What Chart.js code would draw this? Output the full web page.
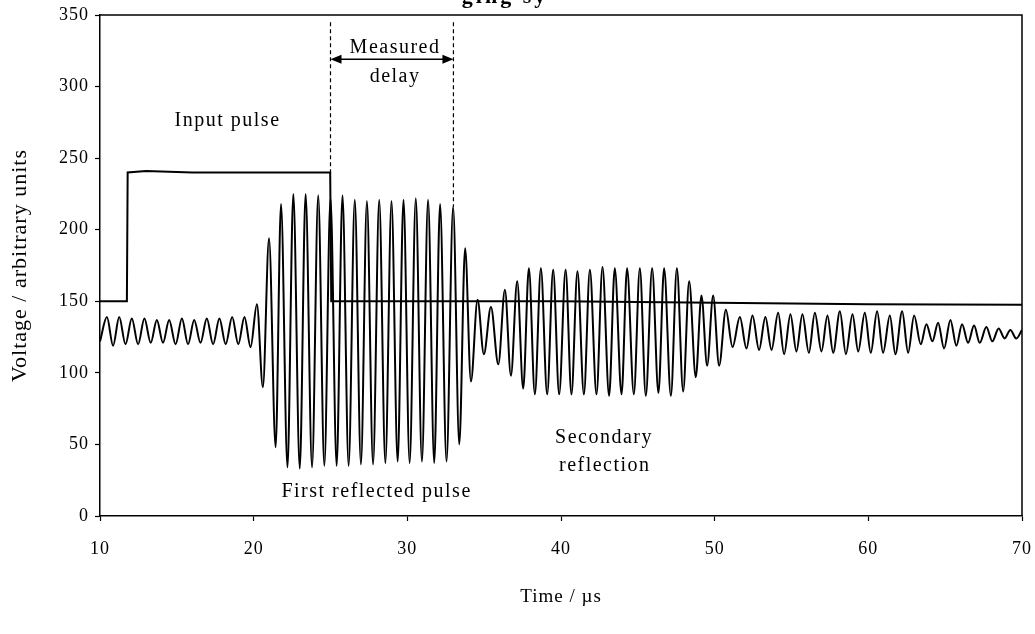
<!DOCTYPE html>
<html>
<head>
<meta charset="utf-8">
<script src="https://cdn.jsdelivr.net/npm/chart.js@4.4.1/dist/chart.umd.min.js"></script>
<style>
  html, body { margin: 0; padding: 0; background: #fff; }
  #chart { display: block; }
</style>
</head>
<body>
<canvas id="chart" width="1035" height="634"></canvas>
<script>
// Input pulse (square step)
const pulseTimes  = [10, 11.75, 11.8, 13, 16, 20, 24.98, 25.05, 30, 40, 50, 60, 70];
const pulseValues = [150, 150, 240, 241, 240, 240, 240, 150, 150, 150, 149, 148, 147.5];

// Received signal: peaks and troughs
const waveTimes = [
  10.0, 10.45, 10.85, 11.25, 11.66, 12.07, 12.48, 12.89, 13.3, 13.7,
  14.1, 14.5, 14.92, 15.33, 15.73, 16.13, 16.54, 16.95, 17.36, 17.77,
  18.18, 18.6, 19.0, 19.4, 19.8, 20.21, 20.6, 21.0, 21.43, 21.78,
  22.2, 22.58, 23.0, 23.38, 23.8, 24.2, 24.6, 25.0, 25.4, 25.78,
  26.18, 26.58, 26.98, 27.37, 27.77, 28.17, 28.57, 28.97, 29.37, 29.75,
  30.15, 30.55, 30.95, 31.35, 31.75, 32.13, 32.55, 32.98, 33.38, 33.76,
  34.14, 34.57, 34.98, 35.44, 35.92, 36.35, 36.74, 37.15, 37.54, 37.91,
  38.3, 38.69, 39.1, 39.49, 39.88, 40.3, 40.68, 41.07, 41.49, 41.88,
  42.31, 42.7, 43.13, 43.5, 43.94, 44.3, 44.74, 45.13, 45.52, 45.93,
  46.34, 46.71, 47.15, 47.54, 47.95, 48.34, 48.77, 49.14, 49.51, 49.9,
  50.29, 50.73, 51.16, 51.64, 52.07, 52.46, 52.89, 53.3, 53.7, 54.13,
  54.52, 54.93, 55.32, 55.71, 56.13, 56.52, 56.95, 57.34, 57.71, 58.15,
  58.54, 58.97, 59.34, 59.77, 60.16, 60.57, 60.96, 61.4, 61.76, 62.2,
  62.59, 62.98, 63.41, 63.78, 64.17, 64.54, 64.93, 65.34, 65.73, 66.1,
  66.49, 66.88, 67.25, 67.68, 68.07, 68.48, 68.87, 69.24, 69.63, 70.0
];
const waveValues = [
  122, 139, 119, 139, 120, 138, 120, 138, 121, 137,
  121, 137, 120, 138, 120, 137, 121, 138, 120, 138,
  120, 139, 120, 139, 118, 148, 90, 194, 48, 218,
  34, 225, 33, 225, 34, 224, 35, 222, 35, 224,
  35, 221, 36, 220, 36, 221, 37, 220, 38, 221,
  37, 222, 38, 221, 37, 218, 38, 216, 50, 187,
  94, 151, 113, 146, 106, 158, 98, 164, 89, 173,
  85, 173, 85, 172, 85, 172, 85, 171, 85, 172,
  85, 174, 84, 173, 85, 173, 85, 173, 84, 173,
  86, 173, 84, 173, 87, 164, 97, 154, 105, 154,
  105, 144, 118, 139, 117, 140, 116, 139, 116, 142,
  113, 141, 115, 141, 114, 142, 115, 140, 114, 143,
  113, 141, 115, 142, 114, 143, 114, 140, 113, 143,
  114, 140, 120, 134, 122, 135, 117, 137, 119, 134,
  121, 133, 121, 132, 122, 131, 124, 130, 124, 130
];

// Axis ticks
const xTicks = [10, 20, 30, 40, 50, 60, 70];
const yTicks = [0, 50, 100, 150, 200, 250, 300, 350];

const FONT = '"Liberation Serif", "Times New Roman", serif';

// Text notes placed in data coordinates
const notes = [
  { text: 'Input pulse', x: 18.3, y: 276 },
  { text: 'Measured', x: 29.2, y: 327 },
  { text: 'delay', x: 29.2, y: 307 },
  { text: 'Secondary', x: 42.8, y: 55 },
  { text: 'reflection', x: 42.85, y: 35 },
  { text: 'First reflected pulse', x: 28.0, y: 17 }
];

function toPoints(xs, ys) {
  return xs.map((x, i) => ({ x, y: ys[i] }));
}

// Frame, delay markers, arrow and labels
const overlayPlugin = {
  id: 'overlay',
  beforeDraw(chart) {
    chart.ctx.letterSpacing = '1px';
  },
  afterDraw(chart) {
    const { ctx, chartArea: area, scales: { x, y } } = chart;
    ctx.save();

    // top and right edges of the plot box
    ctx.strokeStyle = '#000';
    ctx.lineWidth = 1.5;
    ctx.beginPath();
    ctx.moveTo(area.left, area.top);
    ctx.lineTo(area.right, area.top);
    ctx.lineTo(area.right, area.bottom);
    ctx.stroke();

    // dashed delay markers
    ctx.setLineDash([4, 3]);
    ctx.lineWidth = 1.2;
    [[25, 240], [33, 216]].forEach(([t, v]) => {
      ctx.beginPath();
      ctx.moveTo(x.getPixelForValue(t), y.getPixelForValue(345));
      ctx.lineTo(x.getPixelForValue(t), y.getPixelForValue(v));
      ctx.stroke();
    });
    ctx.setLineDash([]);

    // double headed arrow
    const ay = y.getPixelForValue(319);
    const ax1 = x.getPixelForValue(25);
    const ax2 = x.getPixelForValue(33);
    ctx.lineWidth = 1.5;
    ctx.beginPath();
    ctx.moveTo(ax1 + 8, ay);
    ctx.lineTo(ax2 - 8, ay);
    ctx.stroke();
    ctx.fillStyle = '#000';
    ctx.beginPath();
    ctx.moveTo(ax1, ay); ctx.lineTo(ax1 + 11, ay - 4.5); ctx.lineTo(ax1 + 11, ay + 4.5);
    ctx.closePath(); ctx.fill();
    ctx.beginPath();
    ctx.moveTo(ax2, ay); ctx.lineTo(ax2 - 11, ay - 4.5); ctx.lineTo(ax2 - 11, ay + 4.5);
    ctx.closePath(); ctx.fill();

    // text notes
    ctx.font = '20px ' + FONT;
    ctx.letterSpacing = '1.5px';
    ctx.textAlign = 'center';
    ctx.textBaseline = 'middle';
    notes.forEach(n => {
      ctx.fillText(n.text, x.getPixelForValue(n.x), y.getPixelForValue(n.y));
    });

    // chart title, cut off by the top edge of the picture
    ctx.font = 'bold 22px ' + FONT;
    ctx.letterSpacing = '3px';
    ctx.textBaseline = 'alphabetic';
    ctx.fillText('ging sy', 505, 3);

    ctx.restore();
    ctx.letterSpacing = '0px';
  }
};

new Chart(document.getElementById('chart'), {
  type: 'line',
  data: {
    datasets: [
      {
        label: 'Input pulse',
        data: toPoints(pulseTimes, pulseValues),
        borderColor: '#000',
        borderWidth: 2,
        pointRadius: 0,
        tension: 0
      },
      {
        label: 'Signal',
        data: toPoints(waveTimes, waveValues),
        borderColor: '#000',
        borderWidth: 2,
        pointRadius: 0,
        cubicInterpolationMode: 'monotone'
      }
    ]
  },
  options: {
    responsive: false,
    animation: false,
    devicePixelRatio: 1,
    layout: { padding: { left: 0, right: 13, top: 15, bottom: 0 } },
    plugins: {
      legend: { display: false },
      tooltip: { enabled: false }
    },
    scales: {
      x: {
        type: 'linear',
        min: 10,
        max: 70,
        afterBuildTicks: axis => { axis.ticks = xTicks.map(v => ({ value: v })); },
        afterFit: axis => {
          axis.height = 118;
          axis.paddingLeft = 0;
          axis.paddingRight = 0;
        },
        ticks: { color: '#000', padding: 17, maxRotation: 0, font: { family: FONT, size: 18 } },
        grid: { drawOnChartArea: false, color: '#000', tickLength: 5, tickWidth: 1.2 },
        border: { color: '#000', width: 1.5 },
        title: {
          display: true,
          text: 'Time / µs',
          color: '#000',
          padding: { top: 0, bottom: 26 },
          font: { family: FONT, size: 19 }
        }
      },
      y: {
        min: 0,
        max: 350,
        afterBuildTicks: axis => { axis.ticks = yTicks.map(v => ({ value: v })); },
        afterFit: axis => {
          axis.width = 100;
          axis.paddingTop = 0;
          axis.paddingBottom = 0;
        },
        ticks: { color: '#000', padding: 6, font: { family: FONT, size: 18 } },
        grid: { drawOnChartArea: false, color: '#000', tickLength: 5, tickWidth: 1.2 },
        border: { color: '#000', width: 1.5 },
        title: {
          display: true,
          text: 'Voltage / arbitrary units',
          color: '#000',
          padding: { top: 7, bottom: 0 },
          font: { family: FONT, size: 22 }
        }
      }
    }
  },
  plugins: [overlayPlugin]
});
</script>
</body>
</html>
